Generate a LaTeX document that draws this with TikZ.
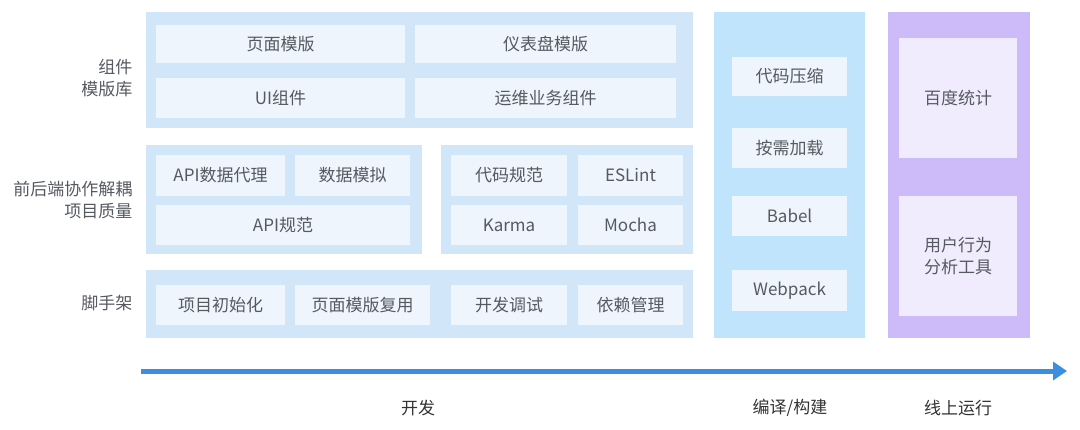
\documentclass[tikz,border=0pt]{standalone}
\usepackage{fontspec}
\setmainfont{Noto Sans CJK SC}
\usetikzlibrary{arrows.meta}
\definecolor{panel}{HTML}{D2E6F9}
\definecolor{inbox}{HTML}{EEF5FD}
\definecolor{build}{HTML}{C0E4FC}
\definecolor{purp}{HTML}{CDBAF8}
\definecolor{inpurp}{HTML}{F0ECFD}
\definecolor{txt}{HTML}{555A60}
\definecolor{arr}{HTML}{3C8FE0}
\begin{document}
\begin{tikzpicture}[x=1pt,y=-1pt,
  font=\fontsize{17}{22}\selectfont, text=txt,
  lbl/.style={anchor=east,align=right,text=txt}]
\useasboundingbox (0,0) rectangle (1080,429);
\newcommand\bx[6]{\fill[#5] (#1,#2) rectangle (#3,#4); \node (#6) at ({(#1+#3)/2},{(#2+#4)/2}) {#6};}
% panels
\fill[panel] (146,12) rectangle (693,128);
\fill[panel] (146,145) rectangle (422,254);
\fill[panel] (441,145) rectangle (693,254);
\fill[panel] (146,270) rectangle (693,338);
\fill[build] (714,12) rectangle (865,338);
\fill[purp] (888,12) rectangle (1030,338);
% boxes
\bx{156}{25}{405}{63}{inbox}{页面模版}
\bx{415}{25}{676}{63}{inbox}{仪表盘模版}
\bx{156}{78}{405}{118}{inbox}{UI组件}
\bx{415}{78}{676}{118}{inbox}{运维业务组件}
\bx{156}{155}{285}{196}{inbox}{API数据代理}
\bx{295}{155}{410}{196}{inbox}{数据模拟}
\bx{156}{205}{410}{245}{inbox}{API规范}
\bx{451}{155}{567}{196}{inbox}{代码规范}
\bx{578}{155}{683}{196}{inbox}{ESLint}
\bx{451}{205}{567}{245}{inbox}{Karma}
\bx{578}{205}{683}{245}{inbox}{Mocha}
\bx{156}{285}{285}{325}{inbox}{项目初始化}
\bx{295}{285}{430}{325}{inbox}{页面模版复用}
\bx{451}{285}{567}{325}{inbox}{开发调试}
\bx{578}{285}{683}{325}{inbox}{依赖管理}
\bx{732}{57}{847}{96}{inbox}{代码压缩}
\bx{732}{128}{847}{168}{inbox}{按需加载}
\bx{732}{196}{847}{236}{inbox}{Babel}
\bx{732}{270}{847}{311}{inbox}{Webpack}
\bx{899}{38}{1017}{158}{inpurp}{百度统计}
\fill[inpurp] (899,196) rectangle (1017,316);
\node[align=center] (ua) at (958,256) {用户行为\\分析工具};
% left labels
\node[lbl] (l1) at (136,78) {组件\\模版库};
\node[lbl] (l2) at (136,200) {前后端协作解耦\\项目质量};
\node[lbl] (l3) at (136,303) {脚手架};
% arrow
\coordinate (a0) at (141,371);
\coordinate (a1) at (1067,371);
\draw[arr,line width=5pt,-{Triangle[length=14pt,width=18pt]}] (a0) -- (a1);
\node[text=black!80] (d1) at (418,408) {开发};
\node[text=black!80] (d2) at (790,408) {编译/构建};
\node[text=black!80] (d3) at (958,408) {线上运行};
\end{tikzpicture}
\end{document}
